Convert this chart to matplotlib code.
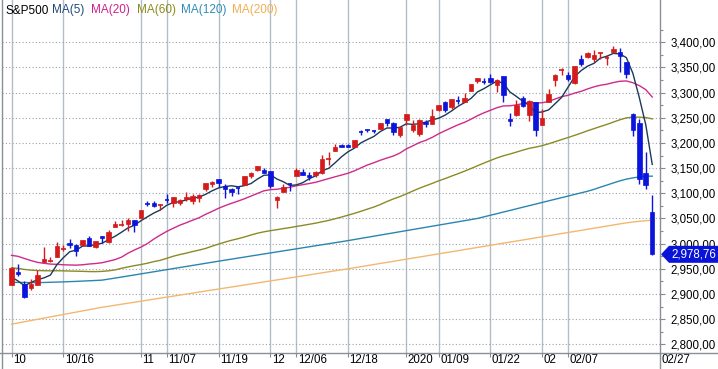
import matplotlib
matplotlib.use('Agg')
import matplotlib.pyplot as plt
import matplotlib.transforms as mtrans
from matplotlib.patches import Polygon, Rectangle
from matplotlib.lines import Line2D
import numpy as np
import pandas as pd

plt.rcParams['font.family'] = ['Liberation Sans', 'DejaVu Sans']

# ---------------- data ----------------
holidays = ['2019-11-28', '2019-12-25', '2020-01-01', '2020-01-20', '2020-02-17']
dates = pd.bdate_range('2019-10-04', '2020-02-27', freq='C', holidays=holidays)

opens = [2918.56, 2944.23, 2920.40, 2911.10, 2918.55, 2963.07, 2965.81, 2973.61, 2989.68, 3000.77,
         2996.84, 2996.48, 3010.73, 2994.01, 3014.78, 3003.32, 3032.12, 3035.39, 3039.74, 3046.90,
         3050.72, 3078.96, 3080.80, 3075.10, 3087.02, 3081.25, 3080.33, 3089.28, 3084.18, 3090.75,
         3107.92, 3117.91, 3127.45, 3114.66, 3108.49, 3111.41, 3117.44, 3134.85, 3145.49, 3147.18,
         3143.85, 3087.41, 3103.50, 3119.21, 3134.62, 3141.86, 3135.36, 3135.75, 3141.23, 3166.65,
         3183.63, 3195.40, 3195.21, 3192.32, 3223.33, 3226.05, 3225.45, 3227.20, 3247.23, 3240.09, 3215.18,
         3244.67, 3226.36, 3217.55, 3241.86, 3238.59, 3266.03, 3281.81, 3271.13, 3285.35, 3282.27,
         3302.97, 3323.66, 3321.03, 3330.02, 3315.77, 3333.10, 3247.16, 3255.35, 3289.46, 3256.45, 3282.33,
         3235.66, 3280.61, 3324.91, 3344.92, 3335.54, 3318.28, 3365.87, 3370.50, 3365.90, 3378.08,
         3369.04, 3380.39, 3380.45, 3360.50, 3257.61, 3238.94, 3139.90, 3062.54]
highs = [2953.74, 2959.75, 2925.47, 2929.32, 2948.46, 2993.28, 2972.84, 3003.28, 2997.54, 3008.29,
         3000.00, 3007.33, 3014.57, 3004.78, 3016.07, 3027.39, 3044.08, 3047.87, 3050.10, 3046.90,
         3066.95, 3085.20, 3083.95, 3078.34, 3097.77, 3093.09, 3088.33, 3102.61, 3098.06, 3098.20,
         3120.46, 3124.17, 3127.64, 3118.97, 3110.11, 3112.87, 3133.83, 3142.69, 3154.26, 3150.30,
         3144.31, 3094.97, 3119.38, 3119.45, 3150.60, 3148.87, 3142.12, 3143.98, 3176.28, 3182.68,
         3197.71, 3198.22, 3198.48, 3205.48, 3225.65, 3227.78, 3226.43, 3240.08, 3247.93, 3240.92, 3231.72,
         3258.14, 3246.15, 3246.84, 3244.91, 3267.07, 3275.58, 3282.99, 3288.13, 3294.25, 3298.66,
         3317.11, 3329.88, 3329.79, 3337.77, 3326.88, 3333.18, 3258.85, 3285.78, 3293.47, 3285.91, 3282.33,
         3268.44, 3306.92, 3337.58, 3347.96, 3341.42, 3352.26, 3375.63, 3381.47, 3385.09, 3380.69,
         3375.01, 3393.52, 3389.15, 3360.76, 3259.81, 3246.99, 3182.51, 3097.07]
lows = [2918.56, 2935.68, 2892.66, 2907.41, 2917.12, 2963.07, 2962.94, 2973.61, 2985.20, 2991.79,
        2976.31, 2995.35, 2995.04, 2991.21, 3000.42, 3001.94, 3032.12, 3034.81, 3025.96, 3023.19,
        3050.72, 3074.87, 3072.15, 3065.89, 3080.23, 3073.58, 3075.82, 3084.73, 3078.80, 3083.26,
        3104.60, 3112.06, 3113.47, 3091.41, 3094.55, 3099.26, 3117.44, 3131.00, 3143.41, 3139.34,
        3110.78, 3070.33, 3102.53, 3103.76, 3134.62, 3135.46, 3126.09, 3133.21, 3138.47, 3156.51,
        3183.63, 3191.03, 3191.14, 3192.32, 3216.03, 3222.30, 3220.51, 3227.20, 3234.37, 3216.57, 3212.03,
        3235.53, 3222.34, 3214.64, 3232.43, 3236.67, 3263.67, 3260.86, 3268.43, 3277.19, 3280.69,
        3302.82, 3318.86, 3316.61, 3320.04, 3301.87, 3281.53, 3234.50, 3253.22, 3271.89, 3242.80, 3214.68,
        3235.66, 3280.61, 3313.75, 3334.39, 3322.12, 3317.77, 3352.72, 3369.72, 3360.52, 3366.15,
        3355.61, 3378.83, 3341.02, 3328.45, 3214.65, 3118.77, 3108.99, 2977.39]
closes = [2952.01, 2938.79, 2893.06, 2919.40, 2938.13, 2970.27, 2966.15, 2995.68, 2989.69, 2997.95,
          2986.20, 3006.72, 2995.99, 3004.52, 3010.29, 3022.55, 3039.42, 3036.89, 3046.77, 3037.56,
          3066.91, 3078.27, 3074.62, 3076.78, 3085.18, 3093.08, 3087.01, 3091.84, 3094.04, 3096.63,
          3120.46, 3122.03, 3120.18, 3108.46, 3103.54, 3110.29, 3133.64, 3140.52, 3153.63, 3140.98,
          3113.87, 3093.20, 3112.76, 3117.43, 3145.91, 3135.96, 3132.52, 3141.63, 3168.57, 3168.80,
          3191.45, 3192.52, 3191.14, 3205.37, 3221.22, 3224.01, 3223.38, 3239.91, 3240.02, 3221.29, 3230.78,
          3257.85, 3234.85, 3246.28, 3237.18, 3253.05, 3274.70, 3265.35, 3288.13, 3283.15, 3289.29,
          3316.81, 3329.62, 3320.79, 3321.75, 3325.54, 3295.47, 3243.63, 3276.24, 3273.40, 3283.66, 3225.52,
          3248.92, 3297.59, 3334.69, 3345.78, 3327.71, 3352.09, 3357.75, 3379.45, 3373.94, 3380.16,
          3370.29, 3386.15, 3373.23, 3337.75, 3225.89, 3128.21, 3116.39, 2978.76]

# closes of the 59 sessions before the first candle (needed for MA5 / MA20 / MA60)
prior_closes = [3013.77, 3014.30, 3004.04, 2984.42, 2995.11, 2976.61, 2985.03, 3005.47, 3019.56, 3003.67,
                3025.86, 3020.97, 3013.18, 2980.38,
                2953.56, 2932.05, 2844.74, 2881.77, 2883.98, 2938.09, 2918.65, 2882.70, 2926.32, 2840.60,
                2847.60, 2888.68, 2923.65, 2900.51, 2924.43, 2922.95, 2847.11, 2878.38, 2869.16, 2887.94,
                2924.58, 2926.46,
                2906.27, 2937.78, 2976.00, 2978.71, 2978.43, 2979.39, 3000.93, 3009.57, 3007.39, 2997.96,
                3005.70, 3006.73, 3006.79, 2992.07, 2991.78, 2966.60, 2984.87, 2977.62, 2961.79, 2976.74,
                2940.25, 2887.61, 2910.63]

# long moving averages
ma120 = [2923.0, 2923.0, 2922.8, 2922.6, 2922.6, 2922.8, 2923.2, 2923.6, 2924.0, 2924.5, 2925.0, 2925.6,
         2926.2, 2926.8, 2927.5,
         2929.5, 2931.5, 2933.6, 2935.7, 2937.8, 2939.9, 2942.0, 2944.1, 2946.2, 2948.3, 2950.4, 2952.5,
         2954.6, 2956.7, 2958.8, 2960.9, 2963.0, 2965.1, 2967.2,
         2969.2, 2971.3, 2973.3, 2975.4, 2977.4, 2979.5, 2981.5, 2983.5, 2985.6, 2987.6, 2989.6, 2991.7,
         2993.7, 2995.8, 2997.8, 2999.8, 3001.9, 3003.9, 3006.0,
         3008.2, 3010.4, 3012.6, 3014.8, 3017.0, 3019.2, 3021.4, 3023.6, 3025.8, 3028.0, 3030.2, 3032.4,
         3034.6, 3036.8, 3039.0, 3041.2, 3043.4, 3045.6, 3047.8, 3050.0,
         3053.2, 3056.4, 3059.5, 3062.7, 3065.9, 3069.1, 3072.3, 3075.4, 3078.6, 3081.8, 3085.0, 3088.2,
         3091.3, 3094.5, 3097.7, 3100.9, 3104.0,
         3107.8, 3112.2, 3116.3, 3120.6, 3124.7, 3128.1, 3130.6, 3132.5, 3134.0, 3134.0]
ma200 = [2840.0, 2842.4, 2844.8, 2847.2, 2849.6, 2852.0, 2854.4, 2856.8, 2859.2, 2861.6, 2864.0, 2866.4,
         2868.8, 2871.2, 2873.6,
         2875.6, 2877.6, 2879.6, 2881.6, 2883.6, 2885.6, 2887.7, 2889.7, 2891.7, 2893.7, 2895.7, 2897.7,
         2899.7, 2901.7, 2903.8, 2905.8, 2907.8, 2909.8, 2911.8, 2913.8, 2915.8, 2917.8, 2919.8, 2921.9,
         2923.9, 2925.9, 2927.9, 2929.9, 2931.9, 2933.9, 2935.9, 2937.9, 2940.0, 2942.0, 2944.0, 2946.0,
         2948.0, 2950.0,
         2952.1, 2954.2, 2956.4, 2958.5, 2960.6, 2962.7, 2964.8, 2967.0, 2969.1, 2971.2, 2973.3, 2975.4,
         2977.6, 2979.7, 2981.8, 2983.9, 2986.0, 2988.2, 2990.3, 2992.4, 2994.5, 2996.6, 2998.8, 3000.9,
         3003.0, 3005.1, 3007.2, 3009.4, 3011.5, 3013.6, 3015.7, 3017.8, 3020.0, 3022.1, 3024.2, 3026.3,
         3028.5,
         3030.6, 3032.8, 3034.9, 3037.1, 3039.2, 3041.2, 3042.9, 3044.3, 3045.6, 3046.5]

tick_dates = ['2019-10-04', '2019-10-16', '2019-11-01', '2019-11-07', '2019-11-19', '2019-12-02',
              '2019-12-06', '2019-12-18', '2020-01-02', '2020-01-09', '2020-01-22', '2020-02-03',
              '2020-02-07']
tick_labels = ['10', '10/16', '11', '11/07', '11/19', '12', '12/06', '12/18', '2020', '01/09', '01/22',
               '02', '02/07']
last_label = '02/27'

legend_names = ['S&P500', 'MA(5)', 'MA(20)', 'MA(60)', 'MA(120)', 'MA(200)']
legend_colors = ['#000000', '#1f4a78', '#d0208a', '#8a8a1a', '#2f8cb8', '#f0b050']

# ---------------- derived ----------------
allc = pd.Series(prior_closes + closes)
n = len(closes)
ma5 = allc.rolling(5).mean().values[-n:]
ma20 = allc.rolling(20).mean().values[-n:]
ma60 = allc.rolling(60).mean().values[-n:]

# ---------------- figure ----------------
W, H = 718, 369
fig = plt.figure(figsize=(W / 100, H / 100), dpi=100)
ax = fig.add_axes([2 / W, 16 / H, 658 / W, 353 / H])
X0, X1 = -1.47, 100.2
Y0, Y1 = 2782.7, 3484.0
ax.set_xlim(X0, X1)
ax.set_ylim(Y0, Y1)
for s in ax.spines.values():
    s.set_visible(False)

x = np.arange(n)
date_list = list(dates.strftime('%Y-%m-%d'))
tick_pos = [date_list.index(d) for d in tick_dates]

# grid
for p in tick_pos:
    ax.axvline(p, color='#b3bdc8', lw=1.0, zorder=0)
for yv in np.arange(2800, 3401, 50):
    ax.axhline(yv, color='#9aa4ae', lw=0.8, ls=(0, (1, 2)), zorder=0)

# moving averages
ma_series = [ma5, ma20, ma60, ma120, ma200]
ma_colors = ['#1a3a5a', '#d02a8a', '#8c8a26', '#2a86b0', '#f2b870']
for s, c in zip(ma_series[::-1], ma_colors[::-1]):
    ax.plot(x, s, color=c, lw=1.0, zorder=2)

# candles
RED, BLUE = '#d41a1a', '#0a14dc'
bw = 0.7
upp = (Y1 - Y0) / 353.0
for i in range(n):
    o, h, l, c = opens[i], highs[i], lows[i], closes[i]
    col = RED if c >= o else BLUE
    ax.vlines(i, l, h, color=col, lw=1.0, zorder=3)
    lo, hi = min(o, c), max(o, c)
    if hi - lo < 1.2 * upp:
        ax.hlines((o + c) / 2, i - bw / 2, i + bw / 2, color=col, lw=1.2, zorder=4)
    else:
        ax.add_patch(Rectangle((i - bw / 2, lo), bw, hi - lo, facecolor=col, edgecolor=col,
                               lw=0.5, zorder=4))

# x axis ticks
ax.set_xticks(tick_pos + [X1])
ax.set_xticklabels(tick_labels + [last_label])
ax.tick_params(axis='x', length=3.0, width=0.8, color='#8a8a8a', pad=0.0, labelsize=8.3,
               labelcolor='#000000')
off = mtrans.ScaledTranslation(1.5 / 100, 3.0 / 100, fig.dpi_scale_trans)
for lab in ax.get_xticklabels():
    lab.set_horizontalalignment('left')
    lab.set_transform(lab.get_transform() + off)

# y axis ticks (right)
ax.yaxis.tick_right()
yt = np.arange(2800, 3401, 50)
ax.set_yticks(yt)
ax.set_yticklabels([f'{v:,.2f}'.replace('.', ',') for v in yt])
ax.set_yticks(np.arange(2825, 3460, 50), minor=True)
ax.tick_params(axis='y', which='major', length=3.6, width=0.8, color='#8a8a8a', pad=4.0,
               labelsize=8.3, labelcolor='#000000')
ax.tick_params(axis='y', which='minor', length=2.2, width=0.8, color='#8a8a8a')

# borders
lc = '#8a8f96'
fig.add_artist(Line2D([1.5 / W, 1.5 / W], [0, 1], color=lc, lw=1.0))
fig.add_artist(Line2D([0, 1], [16 / H, 16 / H], color=lc, lw=1.0))
fig.add_artist(Line2D([660 / W, 660 / W], [0, 1], color=lc, lw=1.0))

# legend texts
leg_x = [5, 52, 91, 137, 181, 232]
for name, col, px in zip(legend_names, legend_colors, leg_x):
    fig.text(px / W, 1 - 10.5 / H, name, color=col, fontsize=8.5, va='center', ha='left')

# last price marker
last = closes[-1]
bt = mtrans.blended_transform_factory(mtrans.IdentityTransform(), ax.transData)
hh = 8.5 * upp
poly = Polygon([(661, last), (669, last + hh), (718, last + hh), (718, last - hh), (669, last - hh)],
               closed=True, facecolor='#0a14d8', edgecolor='none', transform=bt, clip_on=False, zorder=10)
ax.add_patch(poly)
ax.text(671, last, f'{last:,.2f}'.replace('.', ','), color='white', fontsize=8.3, va='center',
        ha='left', transform=bt, clip_on=False, zorder=11)

fig.savefig('out.png', dpi=100, facecolor='white')
